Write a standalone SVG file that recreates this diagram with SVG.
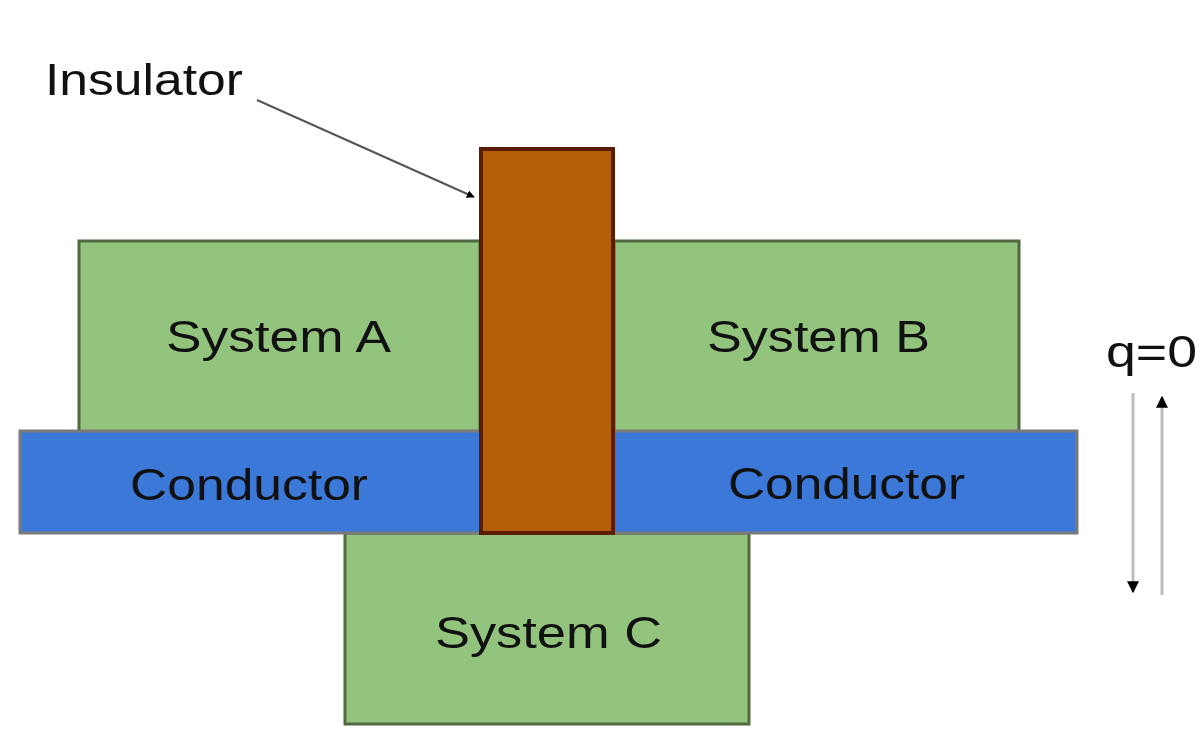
<svg xmlns="http://www.w3.org/2000/svg" width="1202" height="747" viewBox="0 0 1202 747">
  <style>
    .sys { fill: #93c47d; stroke: #4f6b3f; stroke-width: 3; }
    .cond { fill: #3c78d8; stroke: #7a7a7a; stroke-width: 3; }
    .ins { fill: #b45f06; stroke: #5a1d02; stroke-width: 4; }
    .lbl { font-family: "Liberation Sans", Arial, sans-serif; font-size: 45px; fill: #111; }
    .flow { stroke: #bdbdbd; stroke-width: 3; fill: none; }
  </style>
  <defs>
    <marker id="tip" viewBox="0 0 10 10" refX="9" refY="5" markerWidth="4" markerHeight="4" orient="auto">
      <path d="M0,0 L10,5 L0,10 z" fill="#000"/>
    </marker>
  </defs>
  <rect width="1202" height="747" fill="#ffffff"/>

  <g id="system-a">
    <rect class="sys" x="79" y="241" width="401" height="191"/>
    <text class="lbl" x="166" y="352" textLength="225" lengthAdjust="spacingAndGlyphs">System A</text>
  </g>
  <g id="system-b">
    <rect class="sys" x="614" y="241" width="405" height="191"/>
    <text class="lbl" x="707" y="352" textLength="223" lengthAdjust="spacingAndGlyphs">System B</text>
  </g>
  <g id="system-c">
    <rect class="sys" x="345" y="533" width="404" height="191"/>
    <text class="lbl" x="435" y="648" textLength="227" lengthAdjust="spacingAndGlyphs">System C</text>
  </g>
  <g id="conductor">
    <rect class="cond" x="20" y="431" width="1057" height="102"/>
    <text class="lbl" x="130" y="500" textLength="238" lengthAdjust="spacingAndGlyphs">Conductor</text>
    <text class="lbl" x="728" y="499" textLength="237" lengthAdjust="spacingAndGlyphs">Conductor</text>
  </g>
  <g id="insulator">
    <rect class="ins" x="481" y="149" width="132" height="384"/>
    <text class="lbl" x="45" y="95" textLength="198" lengthAdjust="spacingAndGlyphs">Insulator</text>
  </g>
  <g id="heat">
    <text class="lbl" x="1106" y="367" textLength="91" lengthAdjust="spacingAndGlyphs">q=0</text>
  </g>

  <g id="connectors">
    <line x1="257" y1="100" x2="474" y2="197" stroke="#555" stroke-width="2" marker-end="url(#tip)"/>
    <line class="flow" x1="1133" y1="393" x2="1133" y2="592" marker-end="url(#tip)"/>
    <line class="flow" x1="1162" y1="595" x2="1162" y2="397" marker-end="url(#tip)"/>
  </g>
</svg>
